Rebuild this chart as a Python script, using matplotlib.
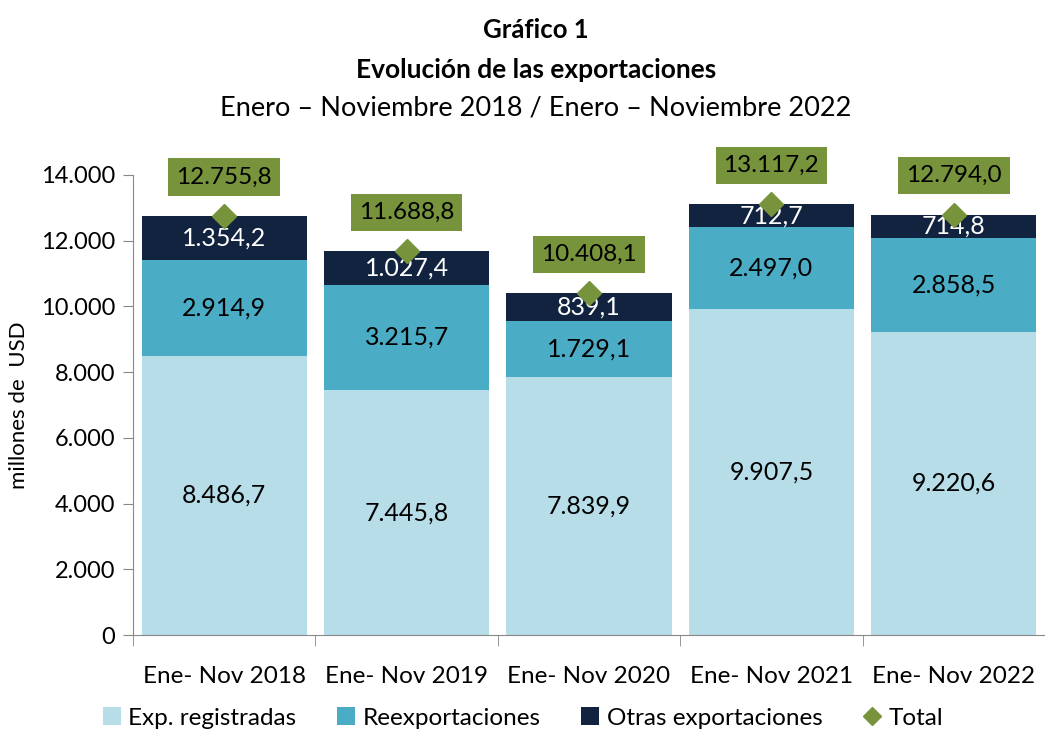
import matplotlib
matplotlib.use("Agg")
import matplotlib.pyplot as plt
from matplotlib.patches import Patch
from matplotlib.lines import Line2D
import numpy as np

plt.rcParams['font.family'] = ['Lato', 'DejaVu Sans']

categories = ["Ene- Nov 2018", "Ene- Nov 2019", "Ene- Nov 2020", "Ene- Nov 2021", "Ene- Nov 2022"]
exp_registradas = [8486.7, 7445.8, 7839.9, 9907.5, 9220.6]
reexportaciones = [2914.9, 3215.7, 1729.1, 2497.0, 2858.5]
otras = [1354.2, 1027.4, 839.1, 712.7, 714.8]
total = [12755.8, 11688.8, 10408.1, 13117.2, 12794.0]
yticks = [0, 2000, 4000, 6000, 8000, 10000, 12000, 14000]
ytick_labels = ["0", "2.000", "4.000", "6.000", "8.000", "10.000", "12.000", "14.000"]

c_exp = "#B7DDE8"
c_reexp = "#4BACC6"
c_otras = "#12233F"
c_total = "#77933C"


def fmt(v):
    s = f"{v:,.1f}"
    return s.replace(",", "X").replace(".", ",").replace("X", ".")


fig = plt.figure(figsize=(10.45, 7.33), dpi=100)
ax = fig.add_axes([133 / 1045, 98 / 733, 1 - 133 / 1045, 460 / 733])

x = np.arange(len(categories))
w = 0.905
ax.bar(x, exp_registradas, w, color=c_exp, zorder=2)
bottom2 = np.array(exp_registradas)
ax.bar(x, reexportaciones, w, bottom=bottom2, color=c_reexp, zorder=2)
bottom3 = bottom2 + np.array(reexportaciones)
ax.bar(x, otras, w, bottom=bottom3, color=c_otras, zorder=2)

fs = 18
for i in range(len(x)):
    ax.text(x[i], exp_registradas[i] / 2, fmt(exp_registradas[i]), ha="center", va="center",
            fontsize=fs, color="black", zorder=4)
    ax.text(x[i], bottom2[i] + reexportaciones[i] / 2, fmt(reexportaciones[i]), ha="center",
            va="center", fontsize=fs, color="black", zorder=4)
    ax.text(x[i], bottom3[i] + otras[i] / 2, fmt(otras[i]), ha="center", va="center",
            fontsize=fs, color="white", zorder=4)

ax.plot(x, total, linestyle="none", marker="D", markersize=12, color=c_total, zorder=5)
for i in range(len(x)):
    ax.annotate(fmt(total[i]), (x[i], total[i]), xytext=(0, 28), textcoords="offset points",
                ha="center", va="center", fontsize=17.5, color="black", zorder=6,
                bbox=dict(boxstyle="square,pad=0.33", facecolor=c_total, edgecolor="none"),
                annotation_clip=False)

ax.set_ylim(0, 14000)
ax.set_xlim(-0.5, 4.5 - 10.5 / 184.5)
ax.set_yticks(yticks)
ax.set_yticklabels(ytick_labels, fontsize=17)
ax.set_xticks(x)
ax.set_xticklabels(categories, fontsize=17.5)
ax.set_xticks(np.arange(-0.5, 5, 1.0), minor=True)
ax.tick_params(axis="x", which="major", length=0, pad=22)
ax.tick_params(axis="x", which="minor", length=8, color="#888888")
ax.tick_params(axis="y", length=7, color="#888888", pad=6)
for s in ["top", "right"]:
    ax.spines[s].set_visible(False)
for s in ["left", "bottom"]:
    ax.spines[s].set_color("#888888")
ax.set_ylabel("millones de  USD", fontsize=16, labelpad=8)

tx = 536 / 1045
fig.text(tx, 1 - 30 / 733, "Gráfico 1", ha="center", va="center", fontsize=18.5, fontweight="bold")
fig.text(tx, 1 - 70 / 733, "Evolución de las exportaciones", ha="center", va="center",
         fontsize=19, fontweight="bold")
fig.text(tx, 1 - 108 / 733, "Enero – Noviembre 2018 / Enero – Noviembre 2022", ha="center",
         va="center", fontsize=19.5)

handles = [
    Patch(facecolor=c_exp, label="Exp. registradas"),
    Patch(facecolor=c_reexp, label="Reexportaciones"),
    Patch(facecolor=c_otras, label="Otras exportaciones"),
    Line2D([], [], linestyle="none", marker="D", markersize=9, color=c_total, label="Total"),
]
fig.legend(handles=handles, loc="center", bbox_to_anchor=(523 / 1045, 1 - 718 / 733), ncol=4,
           frameon=False, fontsize=17.5, handlelength=0.75, handleheight=0.75, handletextpad=0.3,
           columnspacing=1.67)

fig.savefig("out.png", dpi=100)
